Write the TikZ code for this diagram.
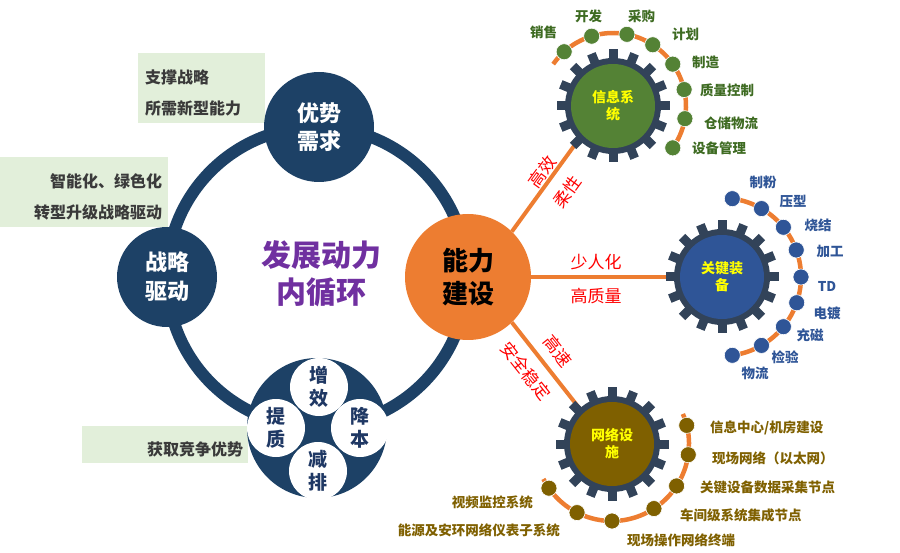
\documentclass[tikz,border=0pt]{standalone}
\usepackage{fontspec}
\setmainfont{Noto Sans CJK SC}
\usetikzlibrary{backgrounds}
\definecolor{ringblue}{HTML}{1D4166}
\definecolor{petalblue}{HTML}{1F3864}
\definecolor{gearcol}{HTML}{324359}
\definecolor{lineorange}{HTML}{ED7D31}
\definecolor{boxgreen}{HTML}{E2EFDA}
\definecolor{textgray}{HTML}{3A3A3A}
\definecolor{innerpurple}{HTML}{7030A0}
\definecolor{leafgreen}{HTML}{548235}
\definecolor{darkgreen}{HTML}{3E6B22}
\definecolor{equipblue}{HTML}{2F5597}
\definecolor{netbrown}{HTML}{7F6000}
\definecolor{gearyellow}{HTML}{FFFF00}

\begin{document}
\begin{tikzpicture}[x=1pt, y=1pt, inner sep=0pt, every node/.style={font=\bfseries}]
	\tikzstyle{note} = [fill=boxgreen, text=textgray, text height=24, font=\bfseries\fontsize{16}{31}\selectfont]
	\tikzstyle{hub} = [circle, fill=ringblue, text=white, align=center]
	\tikzstyle{petal} = [circle, fill=white, minimum size=58, text=petalblue, align=center, font=\bfseries\fontsize{19}{23}\selectfont]
	\tikzstyle{hubgear} = [circle, minimum size=84, text=gearyellow, align=center, font=\bfseries\fontsize{14}{17}\selectfont]
	\tikzstyle{link} = [lineorange, line width=4]
	\tikzstyle{arcline} = [lineorange, line width=4.5]
	\tikzstyle{dot} = [circle, minimum size=16, draw=white, line width=0.6]
	\tikzstyle{tag} = [text=red, font=\fontsize{17}{20}\selectfont]
	\tikzstyle{leaf} = [font=\bfseries\fontsize{13.5}{16}\selectfont]
	
	\useasboundingbox (0,0) rectangle (900,-553);
	
	% green notes
	\node[note, anchor=north west, minimum width=127, minimum height=70, text width=113, align=left] (need) at (138,-53) {支撑战略\\所需新型能力};
	\node[note, anchor=north west, minimum width=168, minimum height=70, text width=156, align=right] (drive) at (0,-157) {智能化、绿色化\\转型升级战略驱动};
	\node[note, anchor=north west, minimum width=166, minimum height=37, text width=156, align=right] (gain) at (82,-426) {获取竞争优势};
	
	% ring
	\coordinate (core) at (317,-277);
	\draw[ringblue, line width=12] (core) circle (150);
	
	\node[hub, minimum size=110, font=\bfseries\fontsize{22}{28}\selectfont] (youshi) at (319,-127) {优势\\需求};
	\node[hub, minimum size=100, font=\bfseries\fontsize{22}{29}\selectfont] (zhanlue) at (167,-277) {战略\\驱动};
	\node[text=innerpurple, align=center, font=\bfseries\fontsize{30}{37}\selectfont] (inner) at (321,-274) {发展动力\\内循环};
	\node[circle, fill=lineorange, minimum size=126, align=center, font=\bfseries\fontsize{26}{33}\selectfont] (nengli) at (468,-277) {能力\\建设};
	\node[hub, minimum size=140] (youhua) at (317,-428) {};
	\node[petal] (zengxiao) at ([shift={(2,41)}]youhua.center) {增\\效};
	\node[petal] (jiangben) at ([shift={(43,0)}]youhua.center) {降\\本};
	\node[petal] (jianpai) at ([shift={(1,-43)}]youhua.center) {减\\排};
	\node[petal] (tizhi) at ([shift={(-41,0)}]youhua.center) {提\\质};
	
	% gears
	\foreach \gx/\gy in {613/106, 722/277, 612/444} {
		\fill[gearcol] (\gx,-\gy) circle (48);
		\foreach \a in {0,22.5,...,337.5}
			\fill[gearcol, shift={(\gx,-\gy)}, rotate=\a] (44,-4.5) rectangle (56.5,4.5);
	}
	\node[hubgear, fill=leafgreen] (xinxi) at (613,-106) {信息系\\统};
	\node[hubgear, fill=equipblue] (zhuangbei) at (722,-277) {关键装\\备};
	\node[hubgear, fill=netbrown] (wangluo) at (612,-444) {网络设\\施};
	
	\begin{pgfonlayer}{background}
		\draw[link] (nengli.46) -- (xinxi.223);
		\draw[link] (nengli.east) -- (zhuangbei.west);
		\draw[link] (nengli.-46) -- (wangluo.133);
	\end{pgfonlayer}
	
	\node[tag, rotate=54] (gaoxiao) at (542,-172) {高效};
	\node[tag, rotate=54] (rouxing) at (567,-192) {柔性};
	\node[tag] (shaoren) at (596,-262) {少人化};
	\node[tag] (gaozhi) at (596,-296) {高质量};
	\node[tag, rotate=-51.5] (gaosu) at (558,-351) {高速};
	\node[tag, rotate=-51.5] (anquan) at (526,-371) {安全稳定};
	
	% information systems
	\draw[arcline] ([shift={(145:73)}]xinxi.center) arc[start angle=145, end angle=-35, radius=73];
	\foreach \a [count=\i] in {132,107,79,57,35,13,-10,-35}
		\node[dot, fill=leafgreen] (xd\i) at ([shift={(\a:73)}]xinxi.center) {};
	\foreach \px/\py/\t [count=\i] in {530/32/销售, 575/16/开发, 628/16/采购, 672/34/计划, 692/62/制造, 700/90/质量控制, 704/123/仓储物流, 692/148/设备管理}
		\node[leaf, text=darkgreen, anchor=west] (xl\i) at (\px,-\py) {\t};
	
	% key equipment
	\draw[arcline] ([shift={(82.5:79)}]zhuangbei.center) arc[start angle=82.5, end angle=-82.5, radius=79];
	\foreach \a [count=\i] in {82.5,60,39,20,0,-19,-39,-60,-82.5}
		\node[dot, fill=equipblue] (zd\i) at ([shift={(\a:79)}]zhuangbei.center) {};
	\foreach \px/\py/\t [count=\i] in {763/182/制粉, 793/202/压型, 818/225/烧结, 830/251/加工, 827/286/TD, 827/313/电镀, 810/335/充磁, 785/357/检验, 755/373/物流}
		\node[leaf, text=equipblue] (zl\i) at (\px,-\py) {\t};
	
	% network facilities
	\draw[arcline] ([shift={(207:77)}]wangluo.center) arc[start angle=207, end angle=383, radius=77];
	\foreach \a [count=\i] in {215,243,270,303,327,352,374}
		\node[dot, fill=netbrown] (wd\i) at ([shift={(\a:77)}]wangluo.center) {};
	\foreach \px/\py/\t [count=\i] in {710/428/{信息中心/机房建设}, 712/458/现场网络（以太网）, 700/487/关键设备数据采集节点, 680/515/车间级系统集成节点, 627/540/现场操作网络终端}
		\node[leaf, text=netbrown, anchor=west] (wl\i) at (\px,-\py) {\t};
	\node[leaf, text=netbrown, anchor=east] (video) at (533,-502) {视频监控系统};
	\node[leaf, text=netbrown, anchor=east] (energy) at (560,-530) {能源及安环网络仪表子系统};
\end{tikzpicture}
\end{document}
